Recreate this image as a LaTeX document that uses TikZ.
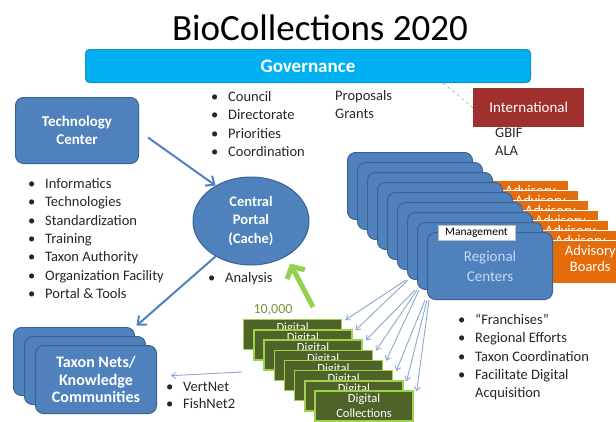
\documentclass[tikz,border=0pt]{standalone}
\usepackage{fontspec}
\setmainfont{Carlito}
\usepackage{tikz}
\usetikzlibrary{positioning,shapes,arrows.meta}

\definecolor{boxblue}{HTML}{4F81BD}
\definecolor{blueline}{HTML}{3A6395}
\definecolor{govblue}{HTML}{00B0F0}
\definecolor{govline}{HTML}{1A8FC2}
\definecolor{intlred}{HTML}{A0302D}
\definecolor{advorange}{HTML}{E46C0A}
\definecolor{digigreen}{HTML}{4F6228}
\definecolor{digiline}{HTML}{9BD34F}
\definecolor{countgreen}{HTML}{77933C}
\definecolor{arrowgreen}{HTML}{92D050}
\definecolor{thinblue}{HTML}{8AA8D0}
\definecolor{txt}{HTML}{262626}
\definecolor{regtext}{HTML}{C6D9F1}

\newcommand{\blt}{\makebox[17pt][l]{\textbullet}}

\begin{document}
\begin{tikzpicture}[x=1pt,y=-1pt,
    every node/.style={inner sep=0pt},
    bluebox/.style={draw=blueline,line width=1pt,fill=boxblue,rounded corners=8pt,
        anchor=north west,text=white,align=center},
    regbox/.style={bluebox,minimum width=125pt,minimum height=67pt},
    taxbox/.style={bluebox,minimum width=121pt,minimum height=68pt,
        font=\bfseries\fontsize{16}{17.5}\selectfont},
    advbox/.style={draw=white,line width=0.6pt,fill=advorange,anchor=north west,
        minimum width=76pt,minimum height=43pt,text=white,align=center,
        text depth=7pt,font=\fontsize{14.5}{16}\selectfont},
    digibox/.style={draw=digiline,line width=1.3pt,fill=digigreen,anchor=north west,
        minimum width=98pt,minimum height=30pt,text=white,align=center,
        font=\fontsize{12.5}{15}\selectfont},
    list/.style={anchor=base west,text=txt,font=\fontsize{14.5}{18.3}\selectfont},
    bluearrow/.style={draw=boxblue,line width=2pt,-{Straight Barb[length=7pt,width=12pt]}},
    thinarrow/.style={draw=thinblue,line width=0.9pt,-{Straight Barb[length=4pt,width=6pt]}},
    greenarrow/.style={draw=arrowgreen,line width=5pt,-{Straight Barb[length=9pt,width=20pt]}}]

    \useasboundingbox (0,0) rectangle (616,421);

    \node[anchor=base,text=black,font=\fontsize{37}{40}\selectfont] (title) at (320,40) {BioCollections 2020};
    \node[draw=govline,line width=1pt,fill=govblue,rounded corners=4pt,anchor=north west,
        minimum width=445pt,minimum height=33pt,text=white,
        font=\bfseries\fontsize{19}{22}\selectfont] (gov) at (85,49) {Governance};

    \node[fill=intlred,anchor=north west,minimum width=111pt,minimum height=39pt,
        text=white,font=\fontsize{15}{18}\selectfont] (intl) at (473,88) {International};
    \coordinate (govlink) at (443,83);
    \draw[gray,dashed] (govlink) -- (intl.west);

    \node[list] (govlist) at (211,101.5) {\begin{tabular}[t]{@{}l@{}}
        \blt Council\\ \blt Directorate\\ \blt Priorities\\ \blt Coordination\end{tabular}};
    \node[list] (funding) at (335,100.5) {\begin{tabular}[t]{@{}l@{}}Proposals\\ Grants\end{tabular}};
    \node[list] (partners) at (495,137.5) {\begin{tabular}[t]{@{}l@{}}GBIF\\ ALA\end{tabular}};

    \node[bluebox,minimum width=123pt,minimum height=66pt,
        font=\bfseries\fontsize{15}{18}\selectfont] (tech) at (15,97) {Technology\\Center};
    \node[list] (techlist) at (28,188.5) {\begin{tabular}[t]{@{}l@{}}
        \blt Informatics\\ \blt Technologies\\ \blt Standardization\\ \blt Training\\
        \blt Taxon Authority\\ \blt Organization Facility\\ \blt Portal \& Tools\end{tabular}};

    \node[ellipse,draw=blueline,line width=1pt,fill=boxblue,minimum width=116pt,minimum height=88pt,
        text=white,align=center,font=\bfseries\fontsize{14.5}{18.5}\selectfont] (portal) at (251,221)
        {Central\\Portal\\(Cache)};
    \node[list] (analysis) at (208,282.5) {\blt Analysis};

    % advisory boards sit behind the regional centers
    \foreach \k in {0,...,5}
        \node[advbox] (adv\k) at (492+10*\k,180+10*\k) {Advisory\\\phantom{Boards}};
    \node[advbox] (adv6) at (552,240) {Advisory\\Boards};
    \foreach \k in {0,...,7}
        \node[regbox] (reg\k) at (347+10*\k,152+10*\k) {};
    \node[regbox,text=regtext,font=\fontsize{15}{20}\selectfont] (reg8) at (427,232) {Regional\\Centers};
    \node[draw=gray!50,fill=white,minimum width=77pt,minimum height=15pt,
        font=\fontsize{11.5}{13}\selectfont] (mgmt) at (476.5,233) {Management};

    \node[list] (franchlist) at (458,324.5) {\begin{tabular}[t]{@{}l@{}}
        \blt ``Franchises''\\ \blt Regional Efforts\\ \blt Taxon Coordination\\
        \blt Facilitate Digital\\ \makebox[17pt]{}Acquisition\end{tabular}};

    % digital collections stack
    \foreach \k in {0,...,6}
        \node[digibox] (dig\k) at (243+10.2*\k,319+10.2*\k) {Digital\\\phantom{Collections}};
    \node[digibox] (dig7) at (314.4,390.4) {Digital\\Collections};
    \node[text=countgreen,font=\fontsize{14}{16}\selectfont] (count) at (273,310) {10,000};

    \foreach \k in {2,1}
        \node[taxbox] (tax\k) at (35-11*\k,345-9*\k) {};
    \node[taxbox] (tax0) at (35,345) {Taxon Nets/\\Knowledge\\Communities};
    \node[list,font=\fontsize{14.5}{16.7}\selectfont] (netlist) at (166,391.5) {\begin{tabular}[t]{@{}l@{}}
        \blt VertNet\\ \blt FishNet2\end{tabular}};

    \coordinate (greenfoot) at (313,307);
    \coordinate (digifoot) at (242,372);
    \draw[bluearrow] ([xshift=9pt,yshift=-7pt]tech.east) -- (portal.135);
    \draw[bluearrow,shorten >=2pt] (portal.225) -- (tax2.north east);
    \draw[greenarrow,shorten >=8pt] (greenfoot) -- (portal.-45);
    \draw[thinarrow,shorten >=14pt] (digifoot) -- (tax0);
    \foreach \k/\r/\dx in {0/6/-1,1/6/1,2/7/-2,3/7/0,4/7/2,5/8/-2,6/8/0,7/8/2}
        \draw[thinarrow] ([xshift=\dx pt]reg\r.south west) -- ([xshift=3pt,yshift=-1pt]dig\k.north east);
\end{tikzpicture}
\end{document}
